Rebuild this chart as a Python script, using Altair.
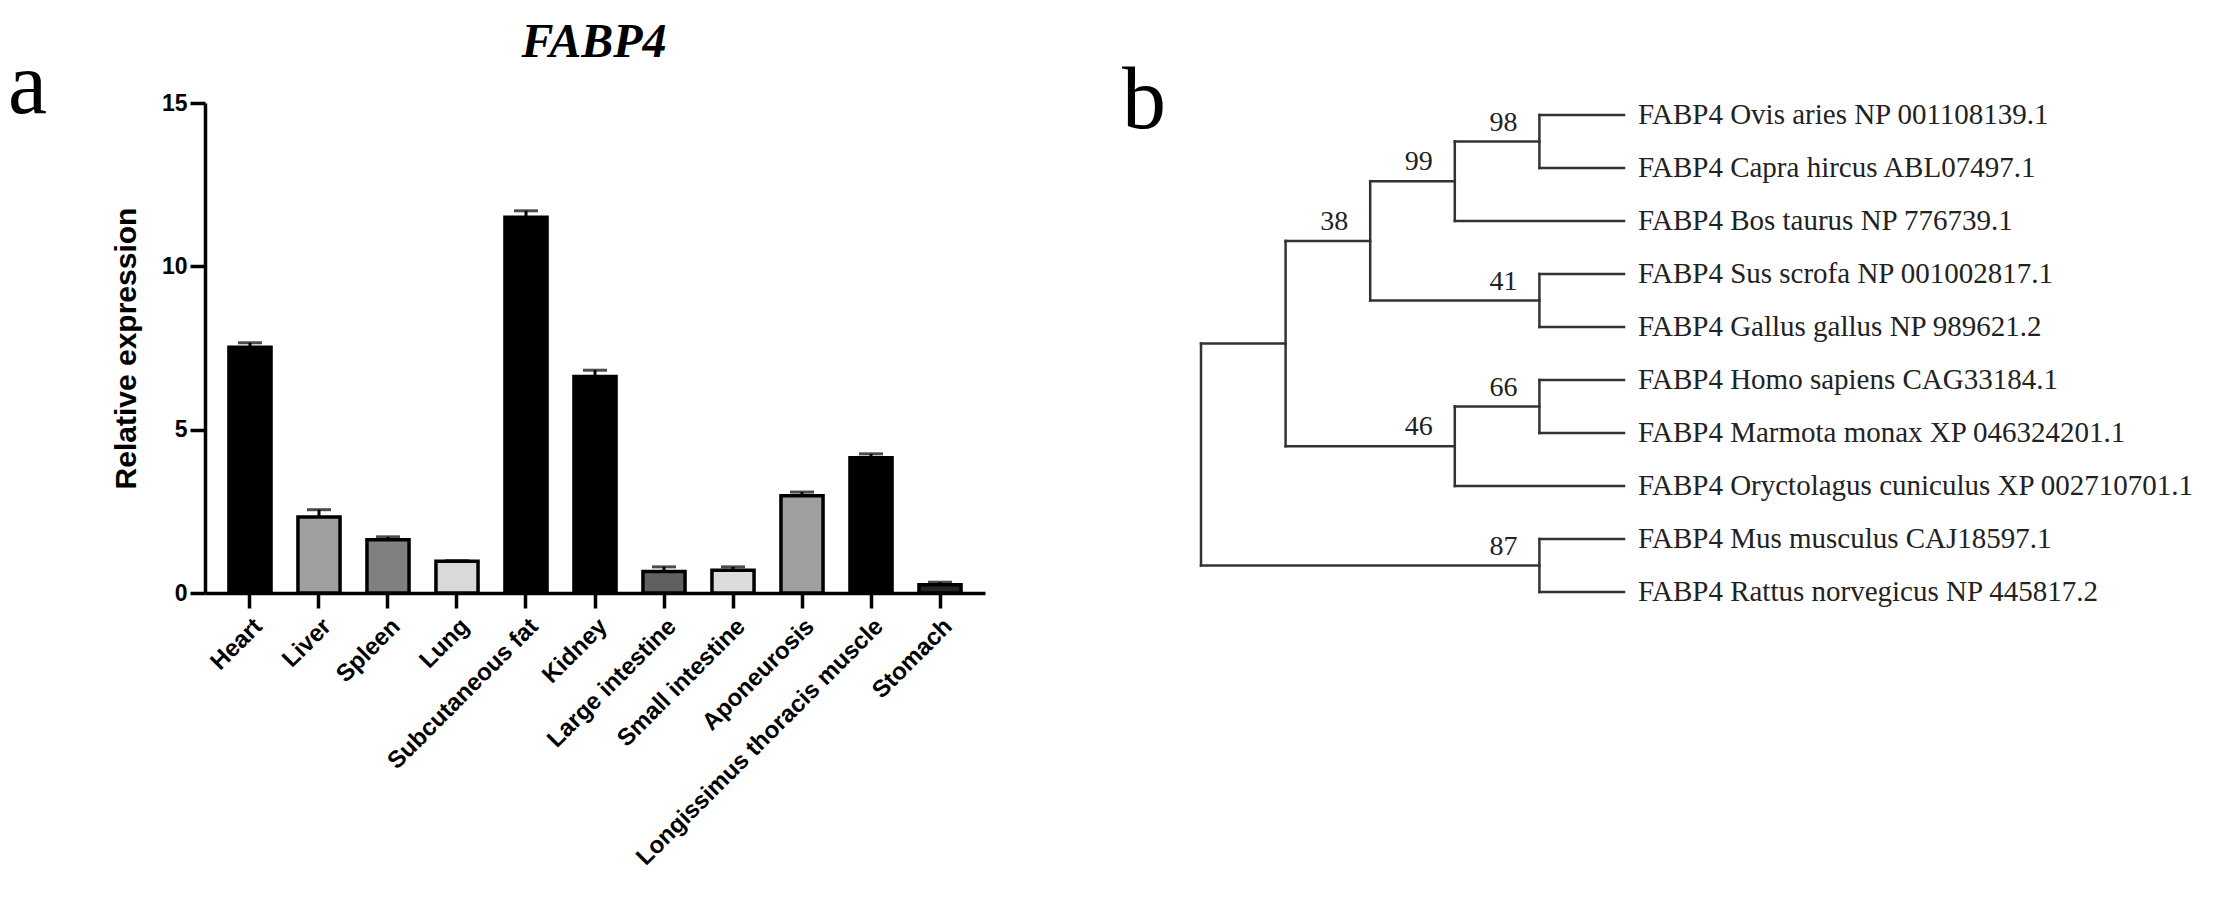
import altair as alt
import pandas as pd

# ---------------- panel a data ----------------
tissues = ["Heart", "Liver", "Spleen", "Lung", "Subcutaneous fat", "Kidney",
           "Large intestine", "Small intestine", "Aponeurosis",
           "Longissimus thoracis muscle", "Stomach"]
expression = [7.52, 2.33, 1.63, 0.97, 11.50, 6.63, 0.66, 0.70, 2.98, 4.14, 0.25]
sem = [0.14, 0.22, 0.09, 0.02, 0.20, 0.19, 0.14, 0.10, 0.11, 0.12, 0.08]
bar_colors = ["#000000", "#a0a0a0", "#808080", "#d9d9d9", "#000000", "#000000",
              "#606060", "#dcdcdc", "#a0a0a0", "#000000", "#262626"]
y_ticks = [0, 5, 10, 15]

# ---------------- panel b data (tree) ----------------
node_names = ["root", "inner", "n38", "n99", "n98", "n41", "n46", "n66", "n87"]
node_parent = [None, "root", "inner", "n38", "n99", "n38", "inner", "n46", "root"]
node_depth = [0, 1, 2, 3, 4, 4, 3, 4, 4]
node_support = [None, None, 38, 99, 98, 41, 46, 66, 87]
leaf_labels = [
    "FABP4 Ovis aries NP 001108139.1",
    "FABP4 Capra hircus ABL07497.1",
    "FABP4 Bos taurus NP 776739.1",
    "FABP4 Sus scrofa NP 001002817.1",
    "FABP4 Gallus gallus NP 989621.2",
    "FABP4 Homo sapiens CAG33184.1",
    "FABP4 Marmota monax XP 046324201.1",
    "FABP4 Oryctolagus cuniculus XP 002710701.1",
    "FABP4 Mus musculus CAJ18597.1",
    "FABP4 Rattus norvegicus NP 445817.2",
]
leaf_parent = ["n98", "n98", "n99", "n41", "n41", "n66", "n66", "n46", "n87", "n87"]
leaf_depth = 5

# ---------------- tree layout (cladogram) ----------------
depth = dict(zip(node_names, node_depth))
parent = dict(zip(node_names, node_parent))
children = {n: [] for n in node_names}
ypos = {}
for i, (lab, p) in enumerate(zip(leaf_labels, leaf_parent)):
    children[p].append(lab)
    ypos[lab] = float(i)
    depth[lab] = leaf_depth
    parent[lab] = p
for n, p in zip(node_names, node_parent):
    if p is not None:
        children[p].append(n)


def place(n):
    if n in ypos:
        return ypos[n]
    ys = [place(c) for c in children[n]]
    ypos[n] = (min(ys) + max(ys)) / 2.0
    return ypos[n]


place("root")

segs = []
for n in node_names:
    ys = [ypos[c] for c in children[n]]
    segs.append({"x": depth[n], "x2": depth[n], "y": min(ys), "y2": max(ys)})
for n, p in parent.items():
    if p is not None:
        segs.append({"x": depth[p], "x2": depth[n], "y": ypos[n], "y2": ypos[n]})
seg_df = pd.DataFrame(segs)

leaf_df = pd.DataFrame({"label": leaf_labels,
                        "depth": [leaf_depth] * len(leaf_labels),
                        "y": [ypos[l] for l in leaf_labels]})
sup_df = pd.DataFrame([{"s": str(s), "depth": depth[n], "y": ypos[n]}
                       for n, s in zip(node_names, node_support) if s is not None])

# ---------------- panel a chart ----------------
bar_df = pd.DataFrame({"tissue": tissues, "expr": expression, "sem": sem})
bar_df["hi"] = bar_df["expr"] + bar_df["sem"]

H = 880
W = 2210
xs = alt.Scale(domain=tissues, range=[197, 977], paddingInner=0.39, paddingOuter=0.347)
ys = alt.Scale(domain=[0, 15], range=[585, 95], nice=False, zero=True)

x_axis = alt.Axis(title=None, labelAngle=-45, labelFont="Liberation Sans",
                  labelFontWeight="bold", labelFontSize=24, labelColor="black",
                  labelLimit=800, labelPadding=6, tickSize=15, tickWidth=3.5,
                  tickColor="black", domainColor="black", domainWidth=3.5,
                  grid=False, offset=585 - H)
y_axis = alt.Axis(values=y_ticks, format="d", title="Relative expression",
                  titleFont="Liberation Sans", titleFontSize=30,
                  titleFontWeight="bold", titleColor="black", titlePadding=20,
                  labelFont="Liberation Sans", labelFontWeight="bold",
                  labelFontSize=23, labelColor="black", labelPadding=3,
                  tickSize=15, tickWidth=3.5, tickColor="black",
                  domainColor="black", domainWidth=3.5, grid=False, offset=-197)

base = alt.Chart(bar_df)
bars = base.mark_bar(stroke="black", strokeWidth=3.5).encode(
    x=alt.X("tissue:N", scale=xs, sort=tissues, axis=x_axis),
    y=alt.Y("expr:Q", scale=ys, axis=y_axis),
    color=alt.Color("tissue:N", scale=alt.Scale(domain=tissues, range=bar_colors), legend=None),
)
err = base.mark_rule(color="black", strokeWidth=3).encode(
    x=alt.X("tissue:N", scale=xs, sort=tissues),
    y=alt.Y("expr:Q", scale=ys),
    y2="hi:Q",
)
cap = base.mark_tick(color="black", size=24, thickness=3).encode(
    x=alt.X("tissue:N", scale=xs, sort=tissues),
    y=alt.Y("hi:Q", scale=ys),
)
bar_layer = alt.layer(bars, err, cap)

# ---------------- panel b chart ----------------
txs = alt.Scale(domain=[0, 5], range=[1193, 1616], nice=False, zero=False)
tys = alt.Scale(domain=[0, 9], range=[107, 584], nice=False, zero=False)

lines = alt.Chart(seg_df).mark_rule(color="#333333", strokeWidth=2.5, strokeCap="square").encode(
    x=alt.X("x:Q", scale=txs, axis=None),
    x2="x2:Q",
    y=alt.Y("y:Q", scale=tys, axis=None),
    y2="y2:Q",
)
leaves = alt.Chart(leaf_df).mark_text(align="left", baseline="middle", dx=14,
                                      font="Liberation Serif", fontSize=29,
                                      color="#222222").encode(
    x=alt.X("depth:Q", scale=txs, axis=None),
    y=alt.Y("y:Q", scale=tys, axis=None),
    text="label:N",
)
supports = alt.Chart(sup_df).mark_text(align="right", baseline="alphabetic", dx=-22, dy=-11,
                                       font="Liberation Serif", fontSize=28,
                                       color="#222222").encode(
    x=alt.X("depth:Q", scale=txs, axis=None),
    y=alt.Y("y:Q", scale=tys, axis=None),
    text="s:N",
)
tree_layer = alt.layer(lines, leaves, supports)

# ---------------- annotations ----------------
one = alt.Data(values=[{"t": 0}])
title_a = alt.Chart(one).mark_text(text="FABP4", font="Liberation Serif", fontStyle="italic",
                                   fontWeight="bold", fontSize=48, align="center",
                                   baseline="alphabetic", color="black").encode(
    x=alt.value(586), y=alt.value(49))
letter_a = alt.Chart(one).mark_text(text="a", font="Liberation Serif", fontSize=88,
                                    align="left", baseline="alphabetic", color="black").encode(
    x=alt.value(0), y=alt.value(105))
letter_b = alt.Chart(one).mark_text(text="b", font="Liberation Serif", fontSize=88,
                                    align="left", baseline="alphabetic", color="black").encode(
    x=alt.value(1114), y=alt.value(120))
annot = alt.layer(title_a, letter_a, letter_b)

chart = alt.layer(bar_layer, tree_layer, annot).resolve_scale(
    x="independent", y="independent", color="independent"
).properties(
    width=W, height=H, autosize=alt.AutoSizeParams(type="none"), padding=0,
    background="white",
).configure_view(stroke=None)

chart.save("out.html", embed_options={"renderer": "svg", "actions": False})
